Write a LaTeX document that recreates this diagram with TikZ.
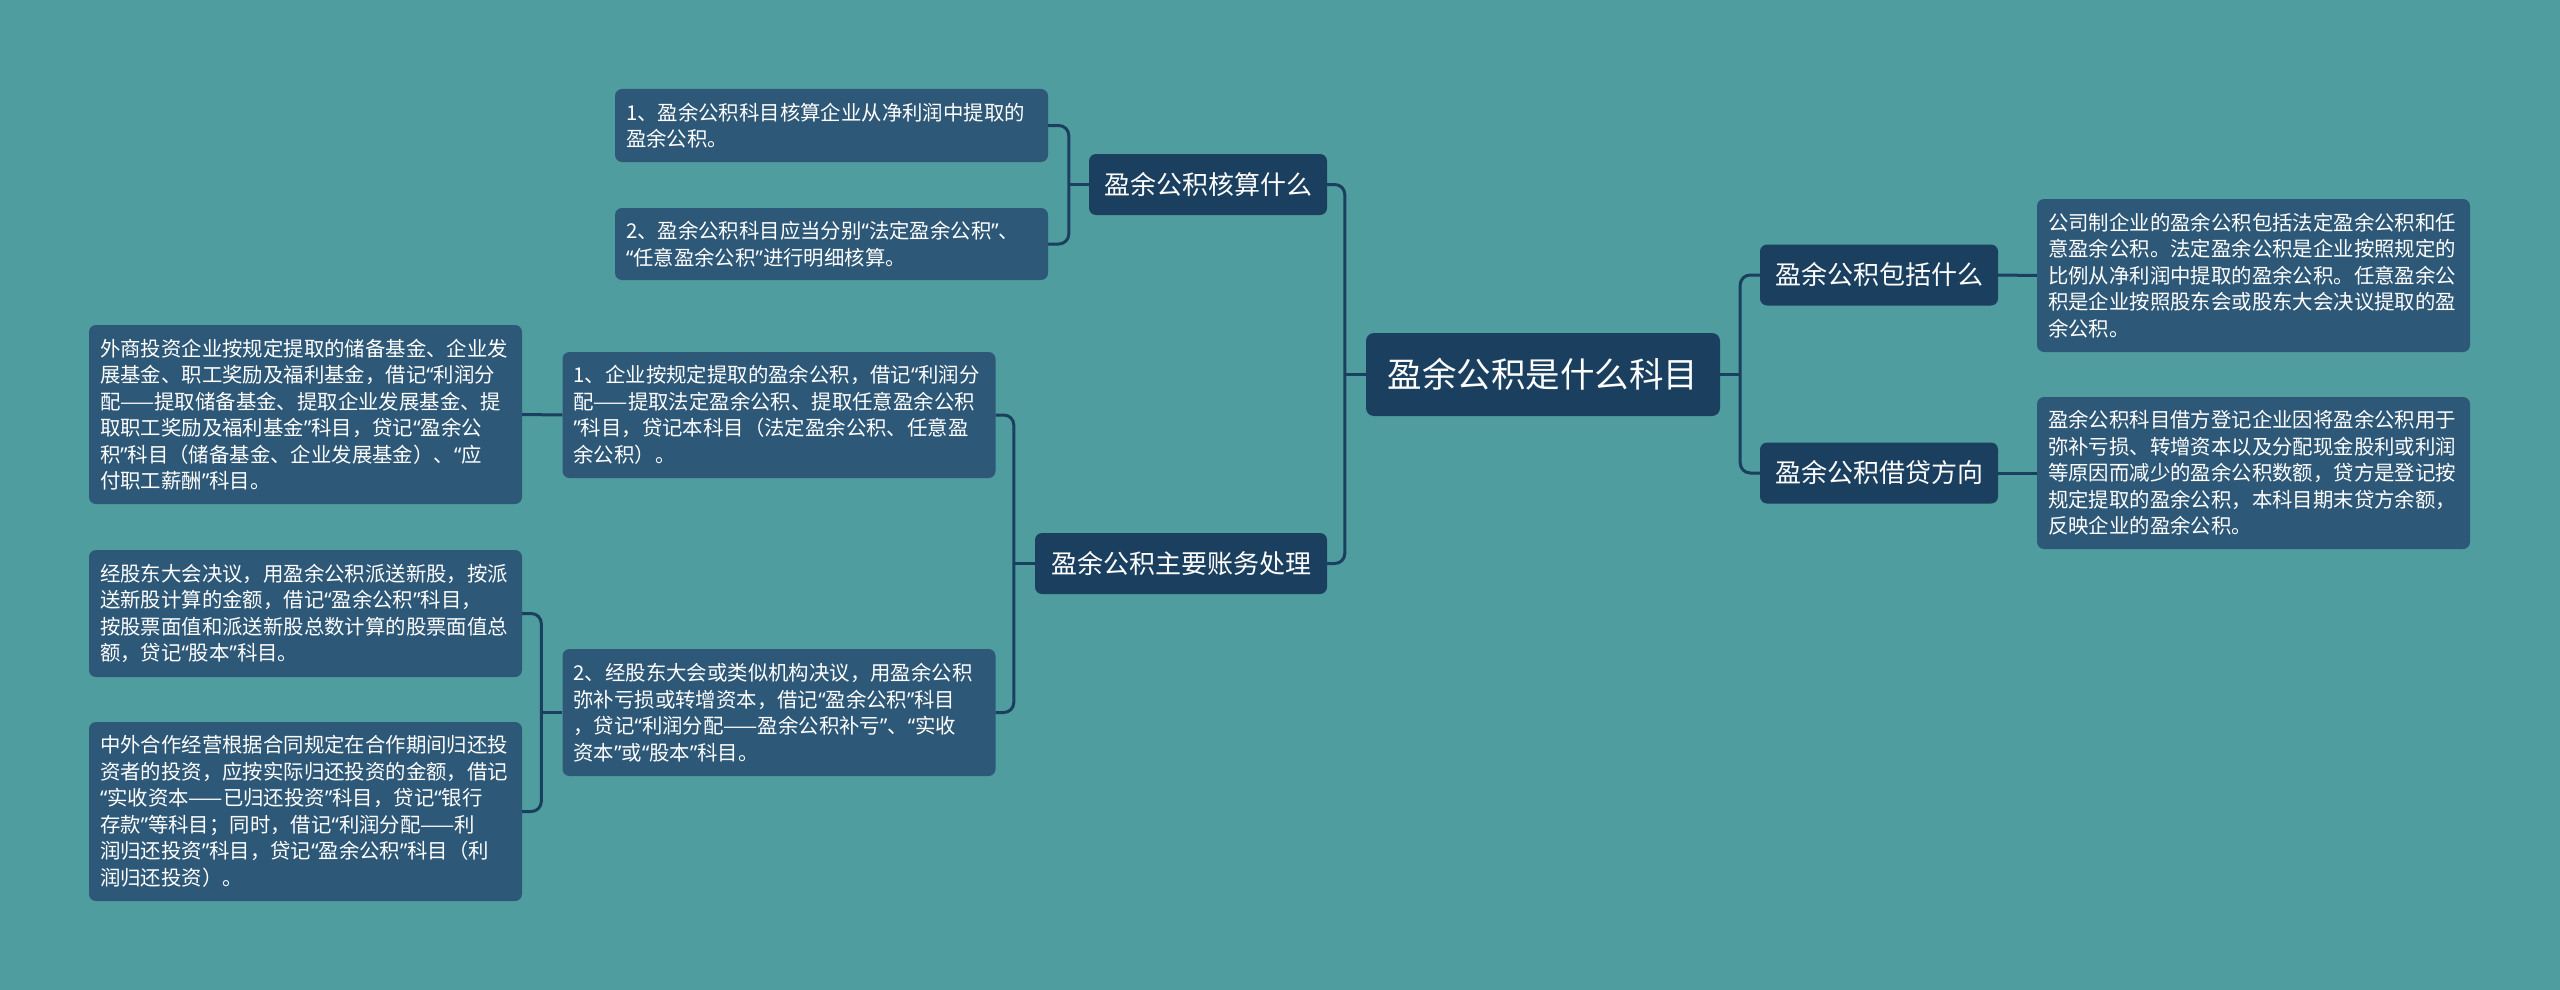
\documentclass[tikz,border=0pt]{standalone}
\usepackage{fontspec}
\setmainfont{Noto Sans CJK SC}
\newfontfamily\qfont{Noto Sans}
\newcommand\qo{{\qfont “}}
\newcommand\qc{{\qfont ”}}
\usetikzlibrary{calc}
\definecolor{bgc}{HTML}{4F9D9E}
\definecolor{navy}{HTML}{1B3F5E}
\definecolor{leafc}{HTML}{2E5877}
\tikzset{
  rootbox/.style={fill=navy, rounded corners=8pt, text=white, font=\fontsize{34.5}{40}\selectfont, minimum width=354pt, minimum height=83pt, inner sep=0pt},
  midbox/.style={fill=navy, rounded corners=7pt, text=white, font=\fontsize{26}{30}\selectfont, minimum height=61pt, inner sep=0pt},
  leafbox/.style={fill=leafc, rounded corners=7pt, text=white, font=\fontsize{20.4}{26.5}\selectfont, text width=411pt, inner xsep=11pt, inner ysep=0pt, align=left},
  conn/.style={draw=navy, line width=3pt, rounded corners=10pt}
}
\begin{document}
\hyphenpenalty=10000
\exhyphenpenalty=10000
\begin{tikzpicture}[x=1pt,y=-1pt]
\fill[bgc] (0,0) rectangle (2560,990);
\useasboundingbox (0,0) rectangle (2560,990);

% root and level 1
\node[rootbox] (root) at (1543,374.5) {盈余公积是什么科目};
\node[midbox, minimum width=238pt] (c1) at (1208,184.5) {盈余公积核算什么};
\node[midbox, minimum width=292pt] (c2) at (1181,563.5) {盈余公积主要账务处理};
\node[midbox, minimum width=238pt] (c3) at (1879,275) {盈余公积包括什么};
\node[midbox, minimum width=238pt] (c4) at (1879,473) {盈余公积借贷方向};

% leaves of c1
\node[leafbox, minimum height=73pt] (l1) at (831.5,125.5) {1、盈余公积科目核算企业从净利润中提取的\\盈余公积。};
\node[leafbox, minimum height=72pt] (l2) at (831.5,244) {2、盈余公积科目应当分别\qo 法定盈余公积\qc 、\\\qo 任意盈余公积\qc 进行明细核算。};

% leaves of c2
\node[leafbox, minimum height=126pt] (b1) at (779,415) {1、企业按规定提取的盈余公积，借记\qo 利润分\\配——提取法定盈余公积、提取任意盈余公积\\\qc 科目，贷记本科目（法定盈余公积、任意盈\\余公积）。};
\node[leafbox, minimum height=179pt] (b1a) at (305.5,414.5) {外商投资企业按规定提取的储备基金、企业发\\展基金、职工奖励及福利基金，借记\qo 利润分\\配——提取储备基金、提取企业发展基金、提\\取职工奖励及福利基金\qc 科目，贷记\qo 盈余公\\积\qc 科目（储备基金、企业发展基金）、\qo 应\\付职工薪酬\qc 科目。};
\node[leafbox, minimum height=127pt] (b2) at (779,712.5) {2、经股东大会或类似机构决议，用盈余公积\\弥补亏损或转增资本，借记\qo 盈余公积\qc 科目\\，贷记\qo 利润分配——盈余公积补亏\qc 、\qo 实收\\资本\qc 或\qo 股本\qc 科目。};
\node[leafbox, minimum height=127pt] (b2a) at (305.5,613.5) {经股东大会决议，用盈余公积派送新股，按派\\送新股计算的金额，借记\qo 盈余公积\qc 科目，\\按股票面值和派送新股总数计算的股票面值总\\额，贷记\qo 股本\qc 科目。};
\node[leafbox, minimum height=179pt] (b2b) at (305.5,811.5) {中外合作经营根据合同规定在合作期间归还投\\资者的投资，应按实际归还投资的金额，借记\\\qo 实收资本——已归还投资\qc 科目，贷记\qo 银行\\存款\qc 等科目；同时，借记\qo 利润分配——利\\润归还投资\qc 科目，贷记\qo 盈余公积\qc 科目（利\\润归还投资）。};

% leaves of c3, c4
\node[leafbox, minimum height=153pt] (r1) at (2253.5,275.5) {公司制企业的盈余公积包括法定盈余公积和任\\意盈余公积。法定盈余公积是企业按照规定的\\比例从净利润中提取的盈余公积。任意盈余公\\积是企业按照股东会或股东大会决议提取的盈\\余公积。};
\node[leafbox, minimum height=152pt] (r2) at (2253.5,473) {盈余公积科目借方登记企业因将盈余公积用于\\弥补亏损、转增资本以及分配现金股利或利润\\等原因而减少的盈余公积数额，贷方是登记按\\规定提取的盈余公积，本科目期末贷方余额，\\反映企业的盈余公积。};

% connectors
\draw[conn] (c1.east) -| ([xshift=-21pt]root.west) |- (c2.east);
\draw[conn] (root.west) -- ([xshift=-21pt]root.west);
\draw[conn] (c3.west) -| ([xshift=20pt]root.east) |- (c4.west);
\draw[conn] (root.east) -- ([xshift=20pt]root.east);

\draw[conn] (l1.east) -| ([xshift=-20pt]c1.west) |- (l2.east);
\draw[conn] (c1.west) -- ([xshift=-20pt]c1.west);

\draw[conn] (b1.east) -| ([xshift=-21pt]c2.west) |- (b2.east);
\draw[conn] (c2.west) -- ([xshift=-21pt]c2.west);

\draw[conn] (b2a.east) -| ([xshift=-21pt]b2.west) |- (b2b.east);
\draw[conn] (b2.west) -- ([xshift=-21pt]b2.west);

\draw[conn] (b1.west) -- (b1a.east);
\draw[conn] (c3.east) -- (r1.west);
\draw[conn] (c4.east) -- (r2.west);
\end{tikzpicture}
\end{document}
